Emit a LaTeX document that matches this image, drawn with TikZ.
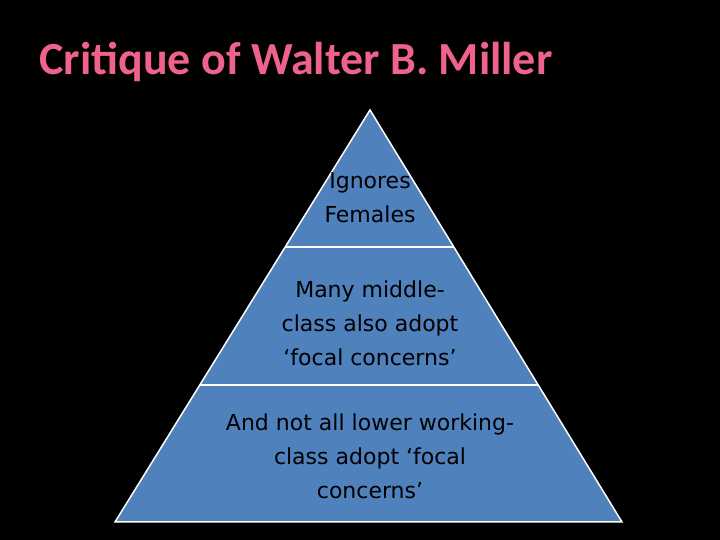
\documentclass[tikz,border=0pt]{standalone}
\usepackage{fontspec}
\setmainfont{DejaVu Sans}
\newfontfamily\titlefont{Carlito}
\definecolor{pyr}{RGB}{79,129,189}
\definecolor{ttl}{RGB}{238,98,140}
\begin{document}
\begin{tikzpicture}[x=1pt,y=1pt,
  lab/.style={text=black,font=\fontsize{22}{34}\selectfont,align=center,inner sep=0pt},
  edge/.style={draw=white,line width=1.5pt}]
\fill[black] (0,0) rectangle (720,540);
\useasboundingbox (0,0) rectangle (720,540);
\coordinate (A) at (370,430);
\coordinate (BL) at (115,18);
\coordinate (BR) at (622,18);
\coordinate (L1) at (285.2,293);
\coordinate (R1) at (453.8,293);
\coordinate (L2) at (199.8,155);
\coordinate (R2) at (538.2,155);
\fill[pyr] (A) -- (BL) -- (BR) -- cycle;
\draw[edge] (A) -- (BL) -- (BR) -- cycle;
\draw[edge] (L1) -- (R1);
\draw[edge] (L2) -- (R2);
\node[anchor=west,text=ttl,font=\titlefont\bfseries\fontsize{46}{50}\selectfont] (t) at (36,478) {Critique of Walter B. Miller};
\node[lab] (n1) at (370,342) {Ignores\\Females};
\node[lab] (n2) at (370,217) {Many middle-\\class also adopt\\‘focal concerns’};
\node[lab] (n3) at (370,84) {And not all lower working-\\class adopt ‘focal\\concerns’};
\end{tikzpicture}
\end{document}
